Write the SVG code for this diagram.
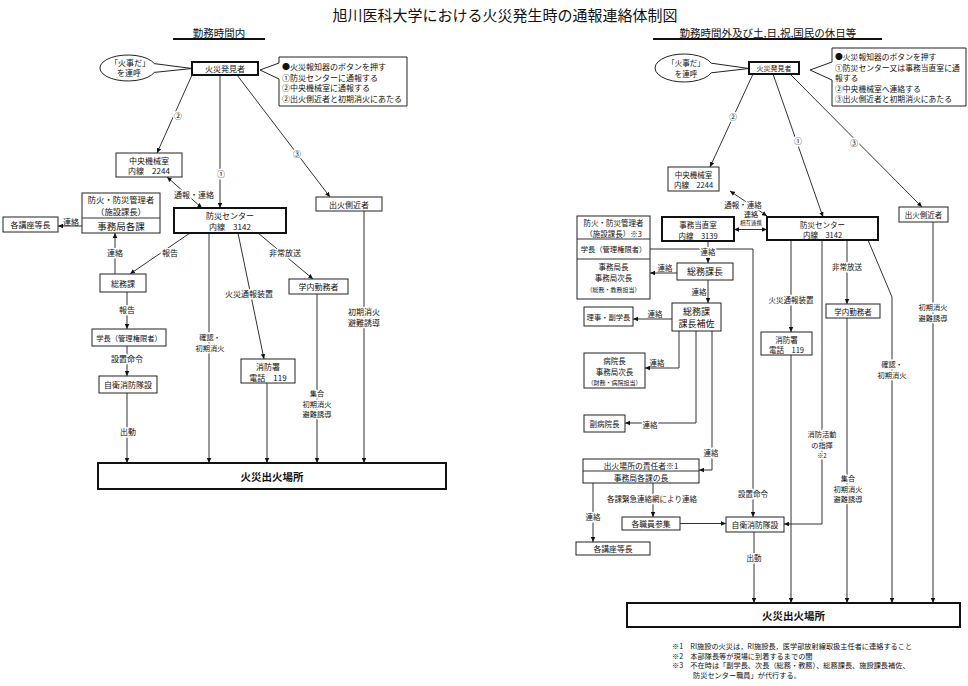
<svg xmlns="http://www.w3.org/2000/svg" width="968" height="686" viewBox="0 0 968 686">
<style>
text{font-family:"Noto Sans CJK JP","Noto Sans",sans-serif;fill:#111;text-anchor:middle;dominant-baseline:central;font-size:8px}
.box{fill:#fff;stroke:#222;stroke-width:1}
.thick{fill:#fff;stroke:#111;stroke-width:2}
.ln{fill:none;stroke:#333;stroke-width:1}
.uline{stroke:#111;stroke-width:2}
.h{paint-order:stroke;stroke:#fff;stroke-width:3px;stroke-linejoin:round}
.l{text-anchor:start}
.s55{font-size:5.5px}.s6{font-size:6px}.s7{font-size:7px}.s72{font-size:7.2px}.s75{font-size:7.5px}.s78{font-size:7.8px}.s85{font-size:8.3px}.s9{font-size:9px}.s95{font-size:9.5px}
.hd{font-size:10.5px}
.b{font-weight:bold;font-size:10.5px}
</style>
<defs>
<marker id="a" viewBox="0 0 6 6" refX="6" refY="3" markerWidth="5" markerHeight="5" orient="auto-start-reverse" markerUnits="userSpaceOnUse"><path d="M0,0.3 L6,3 L0,5.7 z" fill="#111"/></marker>
</defs>
<rect width="968" height="686" fill="#fff"/>
<g id="title">
<text x="505" y="14" style="font-size:15px">旭川医科大学における火災発生時の通報連絡体制図</text>
<text x="219" y="32" class="hd">勤務時間内</text>
<line x1="173" y1="39" x2="265" y2="39" class="uline"/>
<text x="768" y="32" class="hd">勤務時間外及び土,日,祝,国民の休日等</text>
<line x1="653" y1="39" x2="882" y2="39" class="uline"/>
</g>
<g id="connectors">
<line x1="192" y1="75" x2="157" y2="153" class="ln" marker-end="url(#a)"/>
<line x1="220" y1="75" x2="220" y2="208" class="ln" marker-end="url(#a)"/>
<line x1="237" y1="75" x2="330" y2="197" class="ln" marker-end="url(#a)"/>
<line x1="167" y1="177" x2="202" y2="208" class="ln" marker-start="url(#a)" marker-end="url(#a)"/>
<line x1="82" y1="226" x2="58" y2="226" class="ln" marker-end="url(#a)"/>
<line x1="115" y1="274" x2="115" y2="233" class="ln" marker-end="url(#a)"/>
<line x1="190" y1="233" x2="130" y2="274" class="ln" marker-end="url(#a)"/>
<line x1="127" y1="292" x2="127" y2="329" class="ln" marker-end="url(#a)"/>
<line x1="127" y1="346" x2="127" y2="376" class="ln" marker-end="url(#a)"/>
<line x1="127" y1="393" x2="127" y2="463" class="ln" marker-end="url(#a)"/>
<line x1="209" y1="233" x2="209" y2="463" class="ln" marker-end="url(#a)"/>
<line x1="238" y1="233" x2="264" y2="359" class="ln" marker-end="url(#a)"/>
<line x1="267" y1="383" x2="267" y2="463" class="ln" marker-end="url(#a)"/>
<line x1="258" y1="233" x2="313" y2="279" class="ln" marker-end="url(#a)"/>
<line x1="317" y1="294" x2="317" y2="463" class="ln" marker-end="url(#a)"/>
<line x1="364" y1="211" x2="364" y2="463" class="ln" marker-end="url(#a)"/>
<line x1="753" y1="74" x2="710" y2="167" class="ln" marker-end="url(#a)"/>
<line x1="773" y1="74" x2="823" y2="217" class="ln" marker-end="url(#a)"/>
<line x1="790" y1="74" x2="922" y2="207" class="ln" marker-end="url(#a)"/>
<line x1="730" y1="191" x2="767" y2="216" class="ln" marker-start="url(#a)" marker-end="url(#a)"/>
<line x1="734" y1="229.5" x2="767" y2="229.5" class="ln" marker-start="url(#a)" marker-end="url(#a)"/>
<line x1="708" y1="241" x2="708" y2="263" class="ln" marker-end="url(#a)"/>
<polyline points="650,249 753,249 753,517" class="ln" marker-end="url(#a)"/>
<line x1="677" y1="273" x2="650" y2="273" class="ln" marker-end="url(#a)"/>
<line x1="708" y1="280" x2="708" y2="303" class="ln" marker-end="url(#a)"/>
<line x1="672" y1="319" x2="633" y2="319" class="ln" marker-end="url(#a)"/>
<polyline points="679,331 679,368 645,368" class="ln" marker-end="url(#a)"/>
<polyline points="696,331 696,423 625,423" class="ln" marker-end="url(#a)"/>
<polyline points="712,331 712,470 699,470" class="ln" marker-end="url(#a)"/>
<line x1="593" y1="483" x2="593" y2="542" class="ln" marker-end="url(#a)"/>
<line x1="653" y1="483" x2="653" y2="517" class="ln" marker-end="url(#a)"/>
<line x1="680" y1="523.5" x2="726" y2="523.5" class="ln" marker-end="url(#a)"/>
<line x1="754" y1="532" x2="754" y2="603" class="ln" marker-end="url(#a)"/>
<line x1="791" y1="240" x2="791" y2="332" class="ln" marker-end="url(#a)"/>
<line x1="791" y1="355" x2="791" y2="603" class="ln" marker-end="url(#a)"/>
<polyline points="822,240 822,524 784,524" class="ln" marker-end="url(#a)"/>
<line x1="847" y1="240" x2="847" y2="304" class="ln" marker-end="url(#a)"/>
<line x1="847" y1="318" x2="847" y2="603" class="ln" marker-end="url(#a)"/>
<polyline points="868,240 892,297 892,603" class="ln" marker-end="url(#a)"/>
<line x1="933" y1="222" x2="933" y2="603" class="ln" marker-end="url(#a)"/>
<text x="178" y="115" class="h">②</text>
<text x="221" y="173" class="h">①</text>
<text x="297" y="153" class="h">③</text>
<text x="194" y="194" class="h">通報・連絡</text>
<text x="71" y="221">連絡</text>
<text x="115" y="252" class="h">連絡</text>
<text x="170" y="252" class="h">報告</text>
<text x="127" y="309" class="h">報告</text>
<text x="127" y="358" class="h">設置命令</text>
<text x="128" y="431" class="h">出動</text>
<text x="210" y="337" class="h s72">確認・</text>
<text x="210" y="347.5" class="h s72">初期消火</text>
<text x="249" y="293" class="h">火災通報装置</text>
<text x="285" y="252" class="h">非常放送</text>
<text x="317" y="393" class="h s72">集合</text>
<text x="317" y="403.5" class="h s72">初期消火</text>
<text x="317" y="414" class="h s72">避難誘導</text>
<text x="364" y="311" class="h">初期消火</text>
<text x="364" y="322" class="h">避難誘導</text>
<text x="733" y="116" class="h">②</text>
<text x="798" y="140" class="h">①</text>
<text x="854" y="142" class="h">③</text>
<text x="743" y="204" class="h s75">通報・連絡</text>
<text x="751" y="214" class="s7">連絡</text>
<text x="751" y="223" class="h s55">相互連携</text>
<text x="708" y="251.5" class="h s75">連絡</text>
<text x="753" y="493" class="h s75">設置命令</text>
<text x="665" y="267" class="s75">連絡</text>
<text x="699" y="291.5" class="s75">連絡</text>
<text x="655" y="313" class="s75">連絡</text>
<text x="657" y="362.5" class="s75">連絡</text>
<text x="650" y="424" class="h s75">連絡</text>
<text x="711" y="452" class="h s75">連絡</text>
<text x="593" y="516" class="h s75">連絡</text>
<text x="652" y="498.5" class="h s75">各課緊急連絡網により連絡</text>
<text x="754" y="557" class="h s75">出動</text>
<text x="791" y="299" class="h s75">火災通報装置</text>
<text x="822" y="434" class="h s72">消防活動</text>
<text x="822" y="444.5" class="h s72">の指揮</text>
<text x="822" y="455" class="h s6">※2</text>
<text x="847" y="266" class="h s75">非常放送</text>
<text x="848" y="478" class="h s72">集合</text>
<text x="848" y="488.5" class="h s72">初期消火</text>
<text x="848" y="499" class="h s72">避難誘導</text>
<text x="892" y="364" class="h s72">確認・</text>
<text x="892" y="374.5" class="h s72">初期消火</text>
<text x="933" y="307" class="h s72">初期消火</text>
<text x="933" y="317.5" class="h s72">避難誘導</text>
</g>
<g id="L-shout">
<path d="M154.3,63.6 A28,13 0 1,0 154.3,72.4 L192,68.5 Z" class="box"/>
<text x="130" y="62">「火事だ」</text>
<text x="129" y="72.5">を連呼</text>
</g>
<g id="L-finder"><rect x="192" y="62" width="66" height="13" class="thick"/><text x="225" y="68.5">火災発見者</text></g>
<g id="L-note">
<path d="M279,57 H407 V106 H279 V79 L260,70 L279,63 Z" class="box"/>
<text x="282" y="66.5" class="l">●火災報知器のボタンを押す</text>
<text x="282" y="77" class="l">①防災センターに通報する</text>
<text x="282" y="87.5" class="l">②中央機械室に通報する</text>
<text x="282" y="98" class="l">②出火側近者と初期消火にあたる</text>
</g>
<g id="L-chuo"><rect x="116" y="153" width="66" height="24" class="box"/><text x="149" y="160">中央機械室</text><text x="149" y="170.5">内線　2244</text></g>
<g id="L-sokkin"><rect x="316" y="197" width="66" height="14" class="box"/><text x="349" y="204">出火側近者</text></g>
<g id="L-bosai"><rect x="174" y="208" width="112" height="25" class="thick"/><text x="230" y="215.5">防災センター</text><text x="230" y="226.5">内線　3142</text></g>
<g id="L-kanri"><rect x="82" y="193" width="78" height="40" class="box"/><line x1="82" y1="218" x2="160" y2="218" class="ln"/>
<text x="121" y="199" class="s85">防火・防災管理者</text><text x="121" y="211" class="s85">（施設課長）</text><text x="121" y="226" class="s95">事務局各課</text></g>
<g id="L-kouza"><rect x="3" y="217" width="55" height="15" class="box"/><text x="30.5" y="224.5">各講座等長</text></g>
<g id="L-somu"><rect x="100" y="274" width="46" height="18" class="box"/><text x="123" y="283">総務課</text></g>
<g id="L-gakucho"><rect x="92" y="329" width="74" height="17" class="box"/><text x="129" y="337.5" style="font-size:7.3px">学長（管理権限者）</text></g>
<g id="L-jiei"><rect x="99" y="376" width="58" height="17" class="box"/><text x="128" y="384.5">自衛消防隊設</text></g>
<g id="L-shobo"><rect x="241" y="359" width="54" height="24" class="box"/><text x="268" y="366">消防署</text><text x="268" y="377">電話　119</text></g>
<g id="L-gakunai"><rect x="289" y="279" width="59" height="15" class="box"/><text x="318.5" y="286.5">学内勤務者</text></g>
<g id="L-site"><rect x="98" y="463" width="348" height="26" class="thick"/><text x="272" y="476" class="b">火災出火場所</text></g>
<g id="R-shout">
<path d="M711.3,63.2 A29,14 0 1,0 711.3,72.8 L749,68.5 Z" class="box"/>
<text x="686" y="62.5" class="s75">「火事だ」</text>
<text x="686" y="73" class="s75">を連呼</text>
</g>
<g id="R-finder"><rect x="749" y="62" width="50" height="12" class="thick"/><text x="774" y="68" class="s7">火災発見者</text></g>
<g id="R-note">
<path d="M832,48 H966 V106 H832 V80 L810,70 L832,62 Z" class="box"/>
<text x="835" y="56.5" class="l s78">●火災報知器のボタンを押す</text>
<text x="835" y="67" class="l s78">①防災センター又は事務当直室に通</text>
<text x="835" y="77.5" class="l s78">報する</text>
<text x="835" y="88" class="l s78">②中央機械室へ連絡する</text>
<text x="835" y="98.5" class="l s78">③出火側近者と初期消火にあたる</text>
</g>
<g id="R-chuo"><rect x="668" y="167" width="51" height="24" class="box"/><text x="693.5" y="174" class="s75">中央機械室</text><text x="693.5" y="184.5" class="s75">内線　2244</text></g>
<g id="R-jimu"><rect x="662" y="217" width="72" height="24" class="thick"/><text x="698" y="224" class="s75">事務当直室</text><text x="698" y="235" class="s75">内線　3139</text></g>
<g id="R-bosai"><rect x="767" y="217" width="111" height="23" class="thick"/><text x="822.5" y="224" class="s75">防災センター</text><text x="822.5" y="234.5" class="s75">内線　3142</text></g>
<g id="R-sokkin"><rect x="899" y="207" width="49" height="15" class="box"/><text x="923.5" y="214.5" class="s75">出火側近者</text></g>
<g id="R-kanri"><rect x="577" y="216" width="73" height="83" class="box"/>
<line x1="577" y1="239" x2="650" y2="239" class="ln"/><line x1="577" y1="259" x2="650" y2="259" class="ln"/>
<text x="613.5" y="222" class="s75">防火・防災管理者</text><text x="613.5" y="233" class="s75">（施設課長）※3</text>
<text x="613.5" y="249" style="font-size:7.3px">学長（管理権限者）</text>
<text x="613.5" y="266.5" class="s75">事務局長</text><text x="613.5" y="277.5" class="s75">事務局次長</text><text x="613.5" y="289" class="s6">（総務・教務担当）</text></g>
<g id="R-somucho"><rect x="677" y="263" width="56" height="17" class="box"/><text x="705" y="271.5" class="s9">総務課長</text></g>
<g id="R-hosa"><rect x="672" y="303" width="49" height="28" class="box"/><text x="696.5" y="311.5" class="s9">総務課</text><text x="696.5" y="323.5" class="s9">課長補佐</text></g>
<g id="R-riji"><rect x="584" y="307" width="49" height="19" class="box"/><text x="608.5" y="316.5" style="font-size:7.3px">理事・副学長</text></g>
<g id="R-byoin"><rect x="584" y="353" width="61" height="35" class="box"/><text x="614.5" y="360" class="s75">病院長</text><text x="614.5" y="371" class="s75">事務局次長</text><text x="614.5" y="382" class="s6">（財務・病院担当）</text></g>
<g id="R-fukubyoin"><rect x="584" y="415" width="41" height="17" class="box"/><text x="604.5" y="423.5" class="s75">副病院長</text></g>
<g id="R-sekinin"><rect x="583" y="459" width="116" height="24" class="box"/><line x1="583" y1="471" x2="699" y2="471" class="ln"/>
<text x="641" y="465" class="s78">出火場所の責任者※1</text><text x="641" y="477" class="s78">事務局各課の長</text></g>
<g id="R-kouza"><rect x="576" y="542" width="74" height="13" class="box"/><text x="613" y="548.5" class="s78">各講座等長</text></g>
<g id="R-sanshu"><rect x="622" y="517" width="58" height="13" class="box"/><text x="651" y="523.5" class="s78">各職員参集</text></g>
<g id="R-jiei"><rect x="726" y="517" width="58" height="15" class="box"/><text x="755" y="524.5" class="s78">自衛消防隊設</text></g>
<g id="R-shobo"><rect x="761" y="332" width="51" height="23" class="box"/><text x="786.5" y="339" class="s75">消防署</text><text x="786.5" y="349.5" class="s75">電話　119</text></g>
<g id="R-gakunai"><rect x="826" y="304" width="54" height="14" class="box"/><text x="853" y="311" class="s75">学内勤務者</text></g>
<g id="R-site"><rect x="627" y="603" width="333" height="24" class="thick"/><text x="793.5" y="615" class="b">火災出火場所</text></g>
<g id="notes">
<text x="672" y="646" class="l s72">※1　RI施設の火災は，RI施設長，医学部放射線取扱主任者に連絡すること</text>
<text x="672" y="655.5" class="l s72">※2　本部隊長等が現場に到着するまでの間</text>
<text x="672" y="665" class="l s72">※3　不在時は「副学長、次長（総務・教務）、総務課長、施設課長補佐、</text>
<text x="693" y="674.5" class="l s72">防災センター職員」が代行する。</text>
</g>
</svg>
